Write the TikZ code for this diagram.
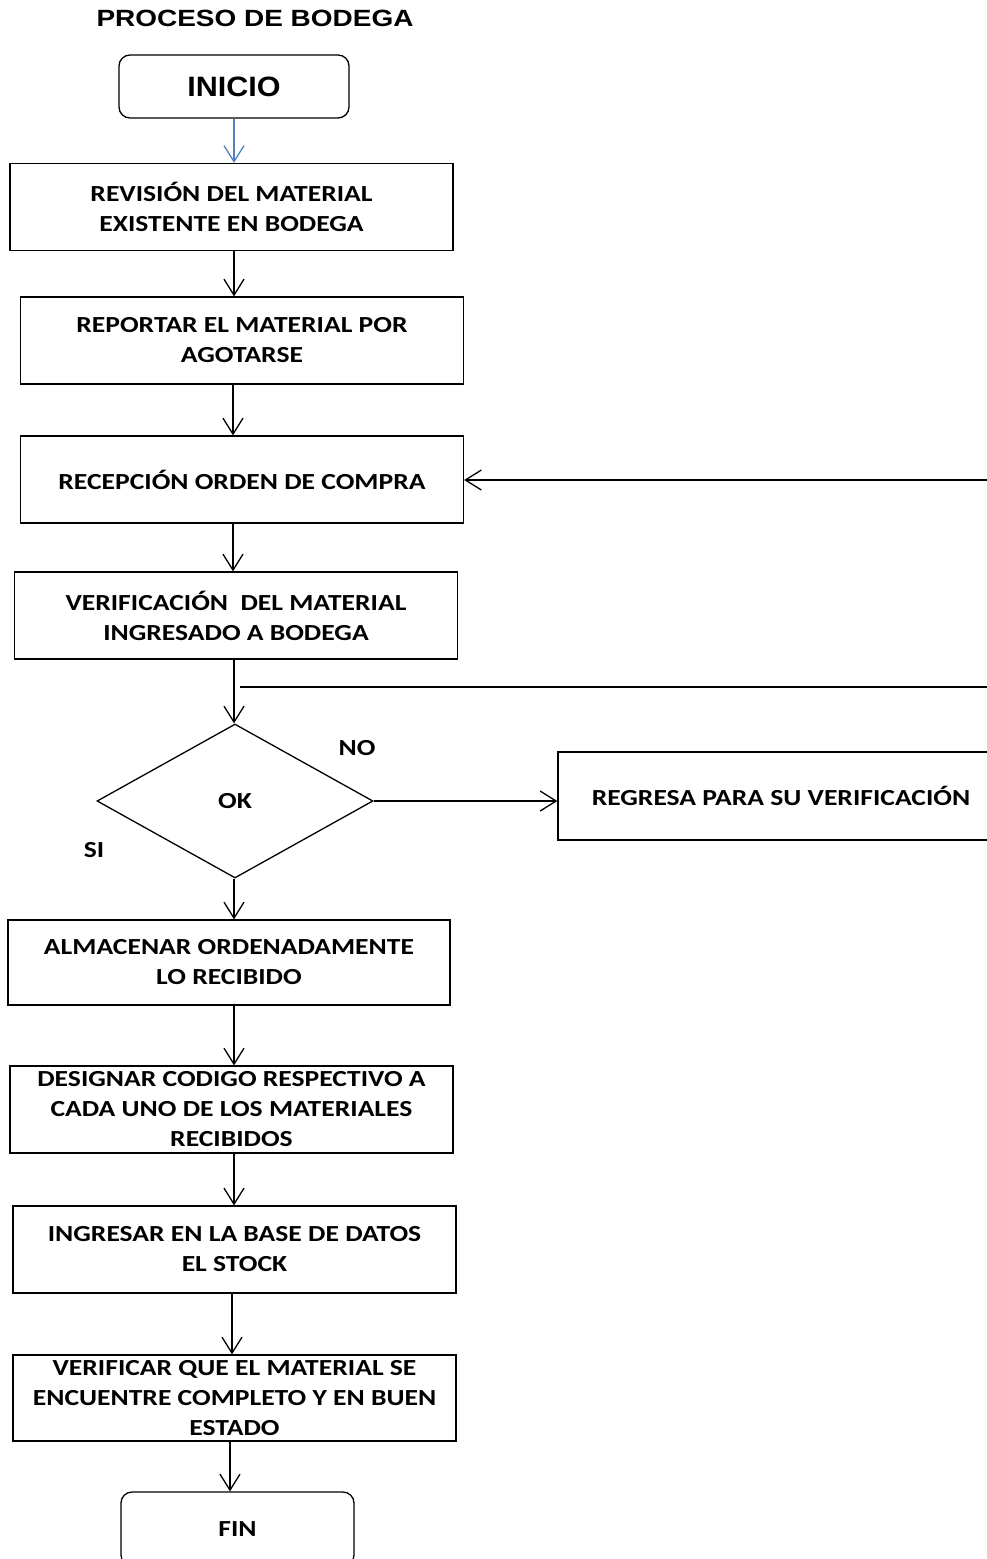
\documentclass[tikz,border=0pt]{standalone}
\usepackage{fontspec}
\setmainfont{Carlito}[FakeStretch=1.2]
\newfontfamily\titlefont{Liberation Sans}[FakeStretch=1.19]
\newfontfamily\startfont{Liberation Sans}[FakeStretch=1.09]
\usetikzlibrary{arrows.meta,shapes.geometric}
\definecolor{flowblue}{RGB}{79,129,189}
\begin{document}
\begin{tikzpicture}[x=1pt,y=-1pt,line width=1.3pt,
  stepbox/.style={draw,rectangle,minimum width=443pt,minimum height=87pt,inner sep=0pt,
    align=center,font=\fontsize{23}{30}\selectfont\bfseries},
  termbox/.style={draw,rectangle,rounded corners=11pt,inner sep=0pt,align=center},
  lbl/.style={font=\fontsize{23}{30}\selectfont\bfseries,inner sep=0pt},
  arr/.style={-{Straight Barb[length=16pt,width=20pt,line width=1.3pt]}}]
\useasboundingbox (0,0) rectangle (987,1559);
\clip (0,0) rectangle (987,1559);

% heading
\node[inner sep=0pt,font=\titlefont\fontsize{23.5}{28}\selectfont\bfseries] (title) at (255,18) {PROCESO DE BODEGA};

% start terminal
\node[termbox,minimum width=230pt,minimum height=63pt,font=\startfont\fontsize{28}{32}\selectfont\bfseries] (inicio) at (234,86.5) {INICIO};

% process steps
\node[stepbox] (s1) at (231.5,207) {REVISIÓN DEL MATERIAL\\EXISTENTE EN BODEGA};
\node[stepbox] (s2) at (242,340.5) {REPORTAR EL MATERIAL POR\\AGOTARSE};
\node[stepbox] (s3) at (242,479.5) {RECEPCIÓN ORDEN DE COMPRA};
\node[stepbox] (s4) at (236,615.5) {VERIFICACIÓN\ \ DEL MATERIAL\\INGRESADO A BODEGA};

% decision
\node[draw,diamond,aspect=1.79,minimum width=276pt,minimum height=154pt,inner sep=0pt] (ok) at (235,801) {};
\node[lbl] at (ok.center) {OK};
\node[lbl] (no) at (357,748) {NO};
\node[lbl] (si) at (94,850) {SI};
\node[stepbox,minimum width=446pt,minimum height=88pt] (back) at (781,796) {REGRESA PARA SU VERIFICACIÓN};

\node[stepbox,minimum width=442pt,minimum height=85pt] (s5) at (229,962.5) {ALMACENAR ORDENADAMENTE\\LO RECIBIDO};
\node[stepbox] (s6) at (231.5,1109.5) {DESIGNAR CODIGO RESPECTIVO A\\CADA UNO DE LOS MATERIALES\\RECIBIDOS};
\node[stepbox] (s7) at (234.5,1249.5) {INGRESAR EN LA BASE DE DATOS\\EL STOCK};
\node[stepbox,minimum height=86pt] (s8) at (234.5,1398) {VERIFICAR QUE EL MATERIAL SE\\ENCUENTRE COMPLETO Y EN BUEN\\ESTADO};

% end terminal
\node[termbox,minimum width=233pt,minimum height=74pt,font=\fontsize{23}{30}\selectfont\bfseries] (fin) at (237.5,1529) {FIN};

% free ends of the return lines at the right margin
\coordinate (rin) at (987,480);
\coordinate (rout) at (987,687);
\coordinate (tap) at (240,687);

% connectors
\draw[arr,flowblue] (inicio.south -| 234,0) -- (s1.north -| 234,0);
\draw[arr] (s1.south -| 234,0) -- (s2.north -| 234,0);
\draw[arr] (s2.south -| 233,0) -- (s3.north -| 233,0);
\draw[arr] (s3.south -| 233,0) -- (s4.north -| 233,0);
\draw[arr] (s4.south -| 234,0) -- (ok.north -| 234,0);
\draw (tap) -- (rout);
\draw[arr] (rin) -- (rin -| s3.east);
\draw[arr] (ok.east) -- (ok.east -| back.west);
\draw[arr] (ok.south -| 234,0) -- (s5.north -| 234,0);
\draw[arr] (s5.south -| 234,0) -- (s6.north -| 234,0);
\draw[arr] (s6.south -| 234,0) -- (s7.north -| 234,0);
\draw[arr] (s7.south -| 232,0) -- (s8.north -| 232,0);
\draw[arr] (s8.south -| 230,0) -- (fin.north -| 230,0);
\end{tikzpicture}
\end{document}
